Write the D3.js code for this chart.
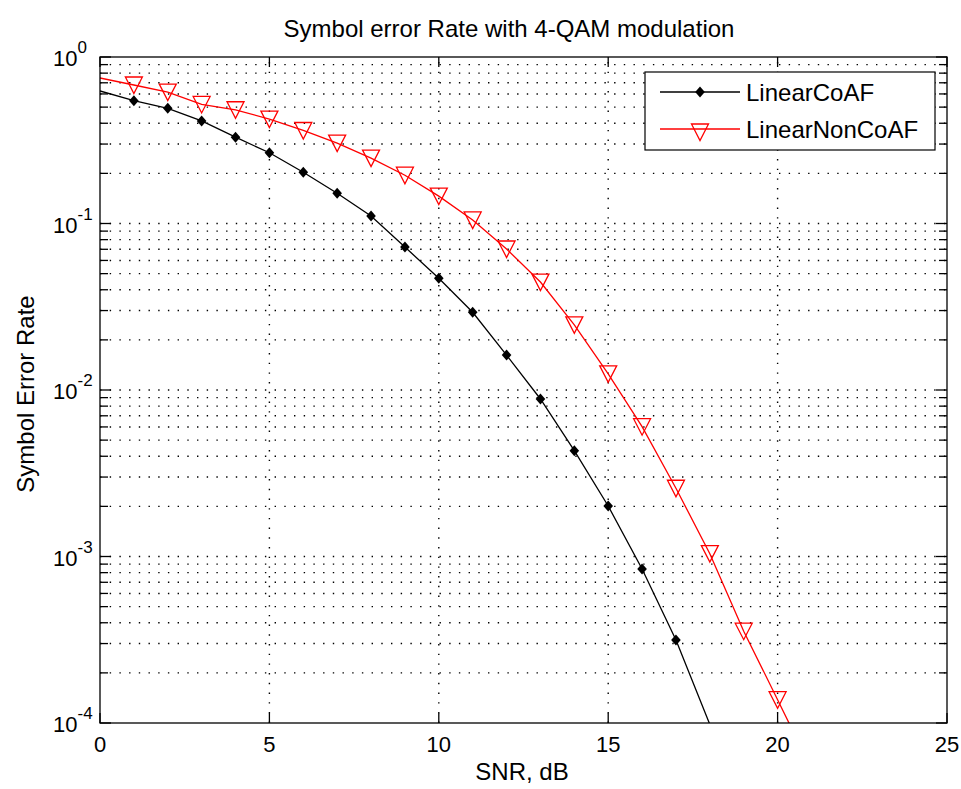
<!doctype html>
<html>
  <head>
    <script src="https://cdn.jsdelivr.net/npm/d3@7"></script>
    <style>
      body { margin: 0; background: #fff; }
      text { font-family: "Liberation Sans", Arial, sans-serif; fill: #000; }
    </style>
  </head>
  <body>
    <svg id="chart" width="961" height="789"></svg>

    <script>
      // values
      var snr = [0, 1, 2, 3, 4, 5, 6, 7, 8, 9, 10, 11, 12, 13, 14, 15, 16, 17, 18, 19, 20, 21];
      var linearCoAF = [0.625, 0.547, 0.492, 0.413, 0.330, 0.266, 0.203, 0.152, 0.111, 0.0722,
                        0.0469, 0.0293, 0.0162, 0.00883, 0.00432, 0.00201, 0.000841, 0.000315, 0.000098];
      var linearNonCoAF = [0.748, 0.679, 0.616, 0.519, 0.482, 0.424, 0.362, 0.304, 0.247, 0.195,
                           0.146, 0.105, 0.0703, 0.0445, 0.0246, 0.0125, 0.00602, 0.00257, 0.00104,
                           0.000356, 0.000138, 0.000053];
      var xTicks = [0, 5, 10, 15, 20, 25];
      var yTickExps = [0, -1, -2, -3, -4];
      var seriesNames = ["LinearCoAF", "LinearNonCoAF"];

      var svg = d3.select("#chart");
      // plot box edges (note: "top" is reserved on window, so use other names)
      var pL = 100, pR = 947, pT = 57, pB = 723;

      var x = d3.scaleLinear().domain([0, 25]).range([pL, pR]);
      var y = d3.scaleLog().domain([1e-4, 1]).range([pB, pT]);

      // minor log ticks 2..9 inside each decade
      var minor = [];
      yTickExps.forEach(function(e) {
        if (e === 0) return;
        for (var k = 2; k <= 9; k++) minor.push(k * Math.pow(10, e));
      });
      var major = yTickExps.map(function(e) { return Math.pow(10, e); });

      svg.append("rect").attr("x", pL).attr("y", pT)
        .attr("width", pR - pL).attr("height", pB - pT).attr("fill", "#fff");

      // dotted grid
      var grid = svg.append("g").attr("stroke", "#000").attr("stroke-width", 1.4)
        .attr("stroke-dasharray", "1.4,8.3");
      grid.selectAll("line.h").data(major.concat(minor).filter(function(v) { return v > 1e-4 && v < 1; }))
        .enter().append("line")
          .attr("x1", pL).attr("x2", pR)
          .attr("y1", function(d) { return y(d); }).attr("y2", function(d) { return y(d); });
      grid.selectAll("line.v").data(xTicks.filter(function(v) { return v > 0 && v < 25; }))
        .enter().append("line")
          .attr("y1", pB).attr("y2", pT)
          .attr("x1", function(d) { return x(d); }).attr("x2", function(d) { return x(d); });

      // ticks on all four sides
      var ticks = svg.append("g").attr("stroke", "#000").attr("stroke-width", 1.3);
      major.concat(minor).forEach(function(v) {
        var len = major.indexOf(v) >= 0 ? 11 : 8;
        ticks.append("line").attr("x1", pL).attr("x2", pL + len).attr("y1", y(v)).attr("y2", y(v));
        ticks.append("line").attr("x1", pR).attr("x2", pR - len).attr("y1", y(v)).attr("y2", y(v));
      });
      xTicks.forEach(function(v) {
        ticks.append("line").attr("x1", x(v)).attr("x2", x(v)).attr("y1", pB).attr("y2", pB - 10);
        ticks.append("line").attr("x1", x(v)).attr("x2", x(v)).attr("y1", pT).attr("y2", pT + 10);
      });

      // curves
      svg.append("clipPath").attr("id", "clip").append("rect")
        .attr("x", pL).attr("y", pT).attr("width", pR - pL).attr("height", pB - pT);
      var plot = svg.append("g").attr("clip-path", "url(#clip)");

      var line = d3.line()
        .x(function(d) { return x(d[0]); })
        .y(function(d) { return y(d[1]); });

      var black = linearCoAF.map(function(v, i) { return [snr[i], v]; });
      var red = linearNonCoAF.map(function(v, i) { return [snr[i], v]; });

      plot.append("path").datum(black).attr("d", line)
        .attr("fill", "none").attr("stroke", "#000").attr("stroke-width", 1.3);
      plot.append("path").datum(red).attr("d", line)
        .attr("fill", "none").attr("stroke", "#ff0000").attr("stroke-width", 1.3);

      var diamond = "M0,-5.5L4.8,0L0,5.5L-4.8,0Z";
      var tri = "M-8.5,-8L8.5,-8L0,8.5Z";

      function shown(d) { return d[0] >= 1 && d[1] >= 1e-4; }

      plot.selectAll("path.dm").data(black.filter(shown)).enter().append("path")
        .attr("d", diamond)
        .attr("transform", function(d) { return "translate(" + x(d[0]) + "," + y(d[1]) + ")"; })
        .attr("fill", "#000");
      plot.selectAll("path.tr").data(red.filter(shown)).enter().append("path")
        .attr("d", tri)
        .attr("transform", function(d) { return "translate(" + x(d[0]) + "," + y(d[1]) + ")"; })
        .attr("fill", "none").attr("stroke", "#ff0000").attr("stroke-width", 1.3);

      // axes box
      svg.append("rect").attr("x", pL).attr("y", pT)
        .attr("width", pR - pL).attr("height", pB - pT)
        .attr("fill", "none").attr("stroke", "#000").attr("stroke-width", 1.3);

      // tick labels
      svg.selectAll("text.xt").data(xTicks).enter().append("text")
        .attr("x", function(d) { return x(d); }).attr("y", 752)
        .attr("text-anchor", "middle").attr("font-size", 22)
        .text(function(d) { return d; });

      yTickExps.forEach(function(e) {
        var t = svg.append("text").attr("x", 53).attr("y", y(Math.pow(10, e)) + 9)
          .attr("font-size", 22);
        t.append("tspan").text("10");
        t.append("tspan").attr("dy", -13).attr("font-size", 17).text(e);
      });

      // labels
      svg.append("text").attr("x", 509).attr("y", 37).attr("text-anchor", "middle")
        .attr("font-size", 24).text("Symbol error Rate with 4-QAM modulation");
      svg.append("text").attr("x", 522).attr("y", 780).attr("text-anchor", "middle")
        .attr("font-size", 24).text("SNR, dB");
      svg.append("text").attr("transform", "translate(34,394) rotate(-90)")
        .attr("text-anchor", "middle").attr("font-size", 24).text("Symbol Error Rate");

      // legend
      var lg = svg.append("g");
      lg.append("rect").attr("x", 645).attr("y", 72).attr("width", 290).attr("height", 78)
        .attr("fill", "#fff").attr("stroke", "#000").attr("stroke-width", 1.2);
      var rows = [
        { y: 92, color: "#000", mark: diamond, fill: "#000" },
        { y: 129, color: "#ff0000", mark: tri, fill: "none" }
      ];
      rows.forEach(function(r, i) {
        lg.append("line").attr("x1", 660).attr("x2", 740).attr("y1", r.y).attr("y2", r.y)
          .attr("stroke", r.color).attr("stroke-width", 1.3);
        lg.append("path").attr("d", r.mark).attr("transform", "translate(700," + (r.y + (i ? 3 : 0)) + ")")
          .attr("fill", r.fill).attr("stroke", r.fill === "none" ? r.color : "none").attr("stroke-width", 1.3);
        lg.append("text").attr("x", 746).attr("y", r.y + 9).attr("font-size", 24).text(seriesNames[i]);
      });
    </script>
  </body>
</html>
